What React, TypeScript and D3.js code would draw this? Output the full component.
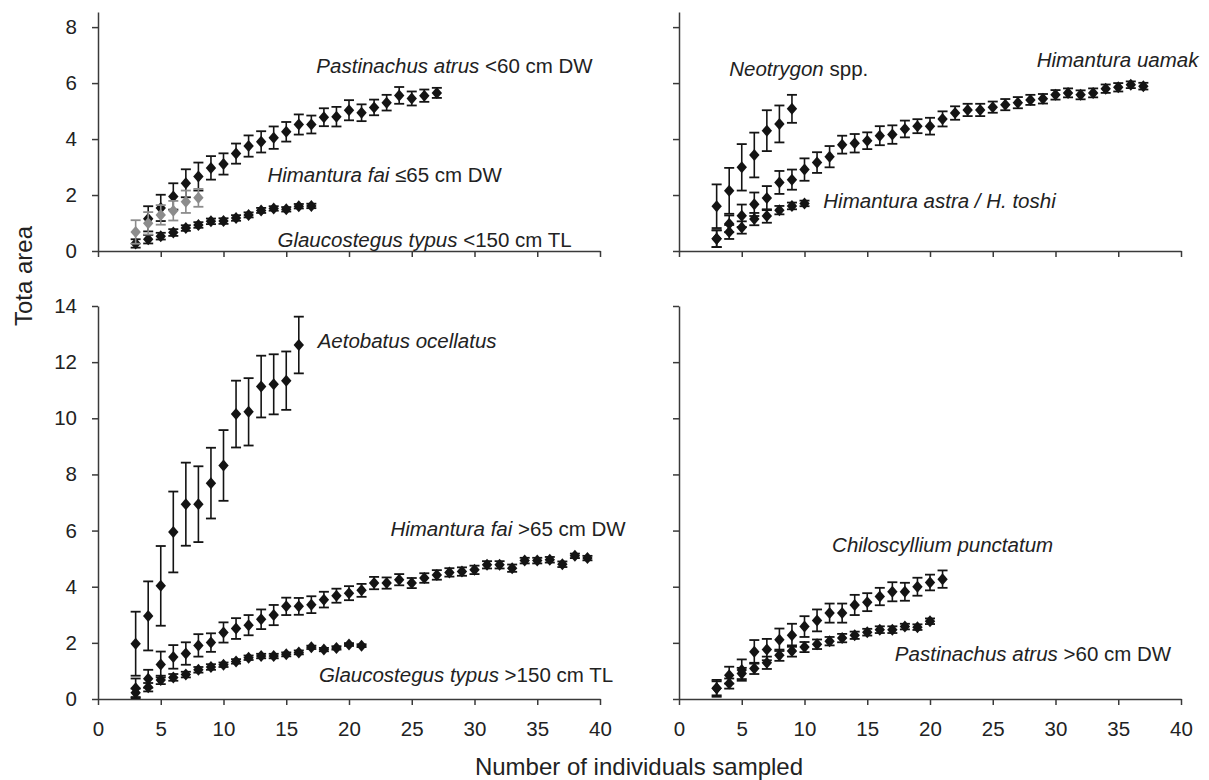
import React, { useEffect, useRef } from "react";
import * as d3 from "d3";

// tick values
const xTicks = [0, 5, 10, 15, 20, 25, 30, 35, 40];
const yTicksTop = [0, 2, 4, 6, 8];
const yTicksBottom = [0, 2, 4, 6, 8, 10, 12, 14];

// top-left panel (first n = start)
const pastinachusSmallStart = 4;
const pastinachusSmallMean = [1.15, 1.54, 1.95, 2.42, 2.66, 2.97, 3.11, 3.48, 3.75, 3.9, 4.05, 4.26, 4.52, 4.52, 4.78, 4.8, 5.03, 4.94, 5.13, 5.3, 5.56, 5.45, 5.55, 5.65];
const pastinachusSmallErr = [0.45, 0.47, 0.47, 0.5, 0.5, 0.42, 0.38, 0.36, 0.38, 0.38, 0.4, 0.35, 0.36, 0.32, 0.32, 0.35, 0.36, 0.3, 0.28, 0.28, 0.3, 0.25, 0.22, 0.18];

const himanturaFaiSmallStart = 3;
const himanturaFaiSmallMean = [0.68, 0.99, 1.29, 1.44, 1.76, 1.9];
const himanturaFaiSmallErr = [0.42, 0.4, 0.35, 0.35, 0.4, 0.32];

const glaucostegusSmallStart = 3;
const glaucostegusSmallMean = [0.27, 0.42, 0.53, 0.66, 0.82, 0.93, 1.06, 1.07, 1.18, 1.29, 1.45, 1.52, 1.49, 1.6, 1.61];
const glaucostegusSmallErr = [0.15, 0.15, 0.12, 0.12, 0.1, 0.1, 0.1, 0.1, 0.1, 0.09, 0.09, 0.08, 0.08, 0.08, 0.08];

// top-right panel
const neotrygonStart = 3;
const neotrygonMean = [1.6, 2.15, 2.99, 3.43, 4.3, 4.54, 5.08];
const neotrygonErr = [0.78, 0.82, 0.83, 0.8, 0.73, 0.66, 0.5];

const uarmakStart = 3;
const uarmakMean = [0.44, 0.97, 1.26, 1.67, 1.89, 2.45, 2.55, 2.91, 3.16, 3.37, 3.8, 3.85, 3.94, 4.12, 4.16, 4.36, 4.46, 4.46, 4.72, 4.93, 5.04, 5.04, 5.14, 5.23, 5.3, 5.4, 5.44, 5.58, 5.65, 5.58, 5.65, 5.8, 5.85, 5.94, 5.89];
const uarmakErr = [0.3, 0.3, 0.4, 0.42, 0.43, 0.41, 0.36, 0.4, 0.37, 0.38, 0.32, 0.33, 0.3, 0.34, 0.33, 0.3, 0.25, 0.3, 0.27, 0.24, 0.22, 0.22, 0.2, 0.2, 0.2, 0.18, 0.17, 0.17, 0.16, 0.16, 0.16, 0.15, 0.15, 0.12, 0.12];

const astraStart = 3;
const astraMean = [0.44, 0.68, 0.84, 1.14, 1.25, 1.46, 1.61, 1.7];
const astraErr = [0.3, 0.25, 0.22, 0.22, 0.24, 0.15, 0.12, 0.1];

// bottom-left panel
const aetobatusStart = 3;
const aetobatusMean = [1.97, 2.96, 4.03, 5.95, 6.94, 6.94, 7.69, 8.32, 10.15, 10.23, 11.13, 11.21, 11.34, 12.61];
const aetobatusErr = [1.14, 1.23, 1.42, 1.44, 1.48, 1.35, 1.26, 1.26, 1.19, 1.2, 1.1, 1.07, 1.04, 1.01];

const himanturaFaiLargeStart = 3;
const himanturaFaiLargeMean = [0.38, 0.72, 1.23, 1.5, 1.62, 1.91, 2.01, 2.37, 2.51, 2.63, 2.84, 2.99, 3.3, 3.3, 3.36, 3.54, 3.68, 3.77, 3.87, 4.13, 4.13, 4.25, 4.13, 4.31, 4.42, 4.51, 4.54, 4.6, 4.78, 4.78, 4.66, 4.93, 4.93, 4.96, 4.8, 5.1, 5.02];
const himanturaFaiLargeErr = [0.35, 0.32, 0.46, 0.42, 0.4, 0.4, 0.33, 0.36, 0.37, 0.36, 0.35, 0.36, 0.31, 0.3, 0.3, 0.28, 0.25, 0.25, 0.23, 0.22, 0.2, 0.2, 0.18, 0.17, 0.17, 0.15, 0.15, 0.15, 0.13, 0.13, 0.13, 0.1, 0.1, 0.1, 0.1, 0.08, 0.08];

const glaucostegusLargeStart = 3;
const glaucostegusLargeMean = [0.22, 0.42, 0.68, 0.77, 0.87, 1.04, 1.14, 1.22, 1.34, 1.47, 1.53, 1.53, 1.59, 1.66, 1.84, 1.76, 1.82, 1.94, 1.9];
const glaucostegusLargeErr = [0.15, 0.15, 0.15, 0.12, 0.1, 0.1, 0.1, 0.08, 0.08, 0.08, 0.08, 0.08, 0.07, 0.07, 0.06, 0.06, 0.06, 0.05, 0.05];

// bottom-right panel
const chiloscylliumStart = 3;
const chiloscylliumMean = [0.38, 0.85, 1.03, 1.68, 1.76, 2.11, 2.27, 2.58, 2.8, 3.06, 3.06, 3.35, 3.45, 3.65, 3.82, 3.82, 4.0, 4.15, 4.27];
const chiloscylliumErr = [0.3, 0.3, 0.38, 0.42, 0.38, 0.4, 0.41, 0.37, 0.39, 0.34, 0.34, 0.36, 0.32, 0.31, 0.34, 0.32, 0.32, 0.28, 0.31];

const pastinachusLargeStart = 3;
const pastinachusLargeMean = [0.38, 0.55, 0.91, 1.09, 1.29, 1.56, 1.71, 1.85, 1.95, 2.06, 2.17, 2.27, 2.38, 2.47, 2.47, 2.58, 2.56, 2.77];
const pastinachusLargeErr = [0.25, 0.18, 0.2, 0.2, 0.22, 0.2, 0.2, 0.18, 0.17, 0.15, 0.15, 0.13, 0.12, 0.12, 0.12, 0.1, 0.1, 0.1];

const FONT = "'Liberation Sans', Arial, sans-serif";
const INK = "#141414";
const AXIS = "#3a3a3a";
const GREY = "#8c8c8c";

const App = () => {
  const svgRef = useRef<SVGSVGElement | null>(null);

  useEffect(() => {
    const svg = d3.select(svgRef.current);
    svg.selectAll("*").remove();

    const xLeft = d3.scaleLinear().domain([0, 40]).range([98, 600]);
    const xRight = d3.scaleLinear().domain([0, 40]).range([679, 1181]);
    const yTop = d3.scaleLinear().domain([0, 8.54]).range([251, 12]);
    const yBottom = d3.scaleLinear().domain([0, 14]).range([699, 306]);

    const panels = [
      { id: "tl", x: xLeft, y: yTop, yTicks: yTicksTop, xLabels: false, yLabels: true },
      { id: "tr", x: xRight, y: yTop, yTicks: yTicksTop, xLabels: false, yLabels: false },
      { id: "bl", x: xLeft, y: yBottom, yTicks: yTicksBottom, xLabels: true, yLabels: true },
      { id: "br", x: xRight, y: yBottom, yTicks: yTicksBottom, xLabels: true, yLabels: false },
    ];

    const styleAxis = (g: any) => {
      g.select(".domain").attr("stroke", AXIS).attr("stroke-width", 1.5);
      g.selectAll(".tick line").attr("stroke", AXIS).attr("stroke-width", 1.5);
      g.selectAll(".tick text")
        .attr("fill", "#222")
        .style("font-family", FONT)
        .style("font-size", "20.5px");
    };

    panels.forEach((p) => {
      const [y0] = p.y.range();
      svg
        .append("g")
        .attr("transform", `translate(0,${y0})`)
        .call(
          d3
            .axisBottom(p.x)
            .tickValues(xTicks)
            .tickSize(6)
            .tickSizeOuter(0)
            .tickPadding(16)
            .tickFormat((d: any) => (p.xLabels ? String(d) : ""))
        )
        .call(styleAxis);

      const [x0] = p.x.range();
      svg
        .append("g")
        .attr("transform", `translate(${x0},0)`)
        .call(
          d3
            .axisLeft(p.y)
            .tickValues(p.yTicks)
            .tickSize(6)
            .tickSizeOuter(0)
            .tickPadding(15)
            .tickFormat((d: any) => (p.yLabels ? String(d) : ""))
        )
        .call(styleAxis);
    });

    const panelById: any = {};
    panels.forEach((p) => (panelById[p.id] = p));

    const series = [
      { panel: "tl", start: glaucostegusSmallStart, mean: glaucostegusSmallMean, err: glaucostegusSmallErr, color: INK },
      { panel: "tl", start: pastinachusSmallStart, mean: pastinachusSmallMean, err: pastinachusSmallErr, color: INK },
      { panel: "tl", start: himanturaFaiSmallStart, mean: himanturaFaiSmallMean, err: himanturaFaiSmallErr, color: GREY },
      { panel: "tr", start: uarmakStart, mean: uarmakMean, err: uarmakErr, color: INK },
      { panel: "tr", start: astraStart, mean: astraMean, err: astraErr, color: INK },
      { panel: "tr", start: neotrygonStart, mean: neotrygonMean, err: neotrygonErr, color: INK },
      { panel: "bl", start: glaucostegusLargeStart, mean: glaucostegusLargeMean, err: glaucostegusLargeErr, color: INK },
      { panel: "bl", start: himanturaFaiLargeStart, mean: himanturaFaiLargeMean, err: himanturaFaiLargeErr, color: INK },
      { panel: "bl", start: aetobatusStart, mean: aetobatusMean, err: aetobatusErr, color: INK },
      { panel: "br", start: pastinachusLargeStart, mean: pastinachusLargeMean, err: pastinachusLargeErr, color: INK },
      { panel: "br", start: chiloscylliumStart, mean: chiloscylliumMean, err: chiloscylliumErr, color: INK },
    ];

    const capHalf = 5;
    const diamond = "M0,-6L5.2,0L0,6L-5.2,0Z";

    series.forEach((s) => {
      const p = panelById[s.panel];
      const pts = s.mean.map((v, i) => ({ n: s.start + i, v, e: s.err[i] }));
      const g = svg.append("g");

      g.selectAll("line.bar")
        .data(pts)
        .join("line")
        .attr("class", "bar")
        .attr("x1", (d) => p.x(d.n))
        .attr("x2", (d) => p.x(d.n))
        .attr("y1", (d) => p.y(d.v - d.e))
        .attr("y2", (d) => p.y(d.v + d.e))
        .attr("stroke", s.color)
        .attr("stroke-width", 1.6);

      ["top", "bottom"].forEach((side) => {
        g.selectAll(`line.cap-${side}`)
          .data(pts)
          .join("line")
          .attr("class", `cap-${side}`)
          .attr("x1", (d) => p.x(d.n) - capHalf)
          .attr("x2", (d) => p.x(d.n) + capHalf)
          .attr("y1", (d) => p.y(side === "top" ? d.v + d.e : d.v - d.e))
          .attr("y2", (d) => p.y(side === "top" ? d.v + d.e : d.v - d.e))
          .attr("stroke", s.color)
          .attr("stroke-width", 1.8);
      });

      g.selectAll("path.pt")
        .data(pts)
        .join("path")
        .attr("class", "pt")
        .attr("d", diamond)
        .attr("transform", (d) => `translate(${p.x(d.n)},${p.y(d.v)})`)
        .attr("fill", s.color);
    });

    // species labels: [panel, x (n), y (value), italic part, plain part]
    const labels: [string, number, number, string, string][] = [
      ["tl", 17.4, 6.35, "Pastinachus atrus", " <60 cm DW"],
      ["tl", 13.5, 2.46, "Himantura fai", " \u226465 cm DW"],
      ["tl", 14.3, 0.14, "Glaucostegus typus", " <150 cm TL"],
      ["tr", 4.0, 6.24, "Neotrygon", " spp."],
      ["tr", 28.5, 6.56, "Himantura uamak", ""],
      ["tr", 11.5, 1.53, "Himantura astra / H. toshi", ""],
      ["bl", 17.5, 12.5, "Aetobatus ocellatus", ""],
      ["bl", 23.3, 5.81, "Himantura fai", " >65 cm DW"],
      ["bl", 17.6, 0.61, "Glaucostegus typus", " >150 cm TL"],
      ["br", 12.2, 5.24, "Chiloscyllium punctatum", ""],
      ["br", 17.2, 1.35, "Pastinachus atrus", " >60 cm DW"],
    ];

    labels.forEach(([pid, lx, ly, it, plain]) => {
      const p = panelById[pid];
      const t = svg
        .append("text")
        .attr("x", p.x(lx))
        .attr("y", p.y(ly))
        .attr("fill", "#222")
        .style("font-family", FONT)
        .style("font-size", "20.5px");
      t.append("tspan").style("font-style", "italic").text(it);
      if (plain) t.append("tspan").text(plain);
    });

    // axis titles
    svg
      .append("text")
      .attr("transform", "translate(32,276) rotate(-90)")
      .attr("text-anchor", "middle")
      .attr("fill", "#222")
      .style("font-family", FONT)
      .style("font-size", "24px")
      .text("Tota area");

    svg
      .append("text")
      .attr("x", 639)
      .attr("y", 775)
      .attr("text-anchor", "middle")
      .attr("fill", "#222")
      .style("font-family", FONT)
      .style("font-size", "24px")
      .text("Number of individuals sampled");
  }, []);

  return (
    <div style={{ position: "absolute", left: 0, top: 0, background: "#fff" }}>
      <svg ref={svgRef} width={1209} height={780} style={{ display: "block" }} />
    </div>
  );
};

export default App;
